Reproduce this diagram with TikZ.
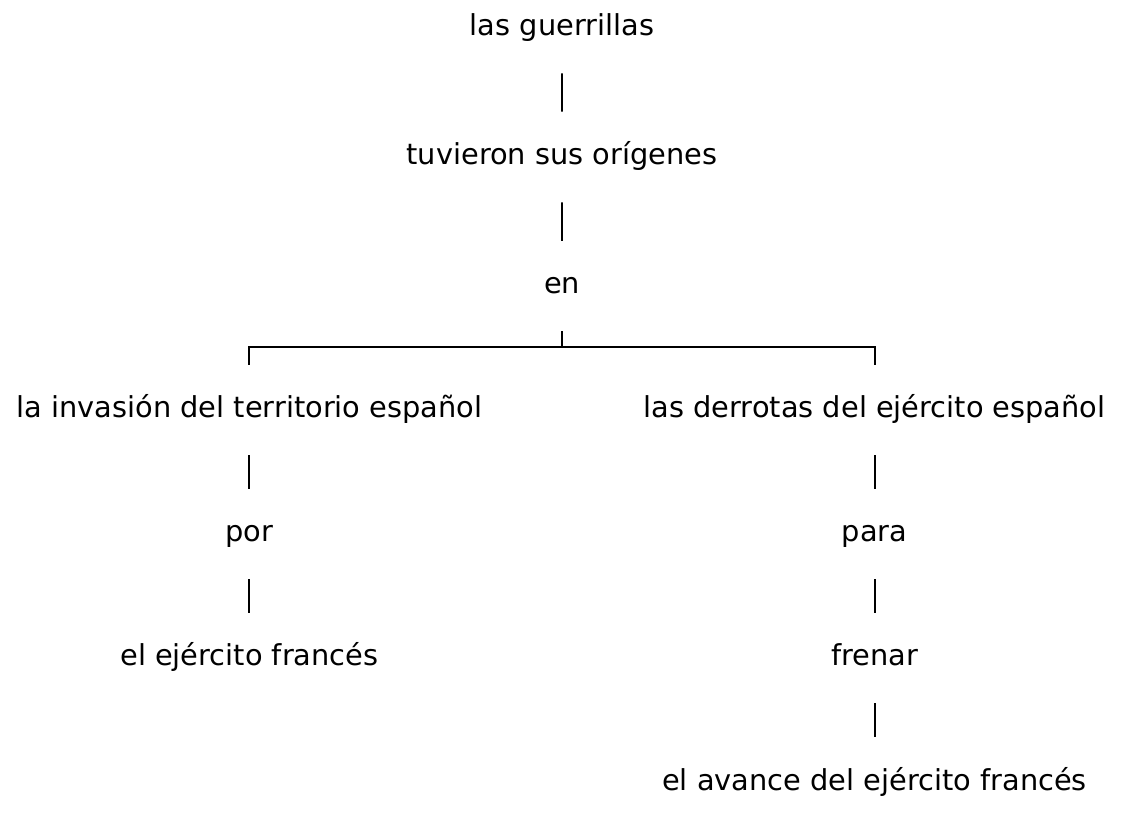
\documentclass[tikz,border=0pt]{standalone}
\usepackage{fontspec}
\setmainfont{DejaVu Sans}
\usepackage{tikz}
\usetikzlibrary{positioning}

\begin{document}
\begin{tikzpicture}
                        [x=0.025cm, y=-0.025cm,
                         level distance=3.225cm,
                         level 3/.style={level distance=3.1cm, sibling distance=15.625cm,
                           edge from parent path={(\tikzparentnode.south) -- ++(0,-0.4cm) -| (\tikzchildnode.north)}},
                         every node/.style={font=\fontsize{20.5}{24}\selectfont,
                           text height=0.5cm, text depth=0.11cm, inner xsep=0pt, inner ysep=0.82cm},
                         edge from parent/.style={draw, line width=1.4pt}]

                        \useasboundingbox (0,0) rectangle (1122,816);

                        \node (guerrillas) at (562,28) {las guerrillas} % Root
                        child {node (origenes) {tuvieron sus orígenes}
                            child {node (en) {en}
                                child {node (invasion) {la invasión del territorio español}
                                    child {node (por) {por}
                                        child {node (frances) {el ejército francés} }
                                    }
                                }
                                child {node (derrotas) {las derrotas del ejército español}
                                    child {node (para) {para}
                                        child {node (frenar) {frenar}
                                            child {node (avance) {el avance del ejército francés} }
                                        }
                                    }
                                }
                            }
                        };
                    \end{tikzpicture}
\end{document}
